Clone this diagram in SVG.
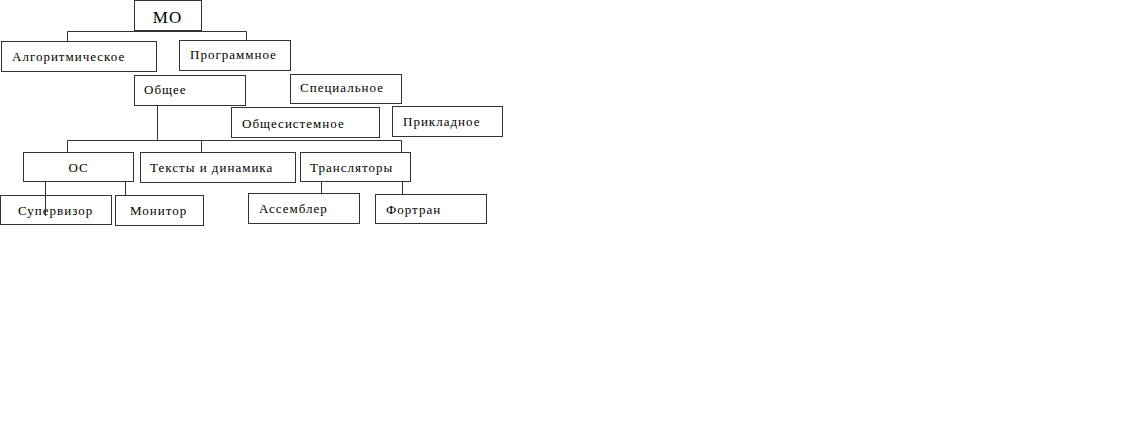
<svg xmlns="http://www.w3.org/2000/svg" width="1142" height="430" viewBox="0 0 1142 430">
<style>
.b{fill:#fff;stroke:#333;stroke-width:1}
.t{font-family:"Liberation Serif","Times New Roman",serif;font-size:13px;letter-spacing:1px;fill:#000}
.c{fill:none;stroke:#333;stroke-width:1}
</style>
<rect width="1142" height="430" fill="#fff"/>
<g id="connectors">
<path class="c" d="M67.5 41V31.5H246.5V40"/>
<path class="c" d="M157.5 105V140.5M67.5 152V140.5H401.5V152M201.5 140.5V152"/>
<path class="c" d="M45.5 182V216M125.5 182V195"/>
<path class="c" d="M321.5 182V193M402.5 182V194"/>
</g>
<g id="mo"><rect class="b" x="134.5" y="0.5" width="67" height="30"/><text class="t" x="167.5" y="23" text-anchor="middle" style="font-size:17px;letter-spacing:1px">МО</text></g>
<g id="algo"><rect class="b" x="1.5" y="41.5" width="155" height="30"/><text class="t" x="12" y="61">Алгоритмическое</text></g>
<g id="prog"><rect class="b" x="179.5" y="40.5" width="111" height="30"/><text class="t" x="190" y="59">Программное</text></g>
<g id="obsh"><rect class="b" x="134.5" y="75.5" width="111" height="30"/><text class="t" x="144" y="94">Общее</text></g>
<g id="spec"><rect class="b" x="290.5" y="74.5" width="111" height="29"/><text class="t" x="300" y="92">Специальное</text></g>
<g id="obshsys"><rect class="b" x="231.5" y="107.5" width="148" height="30"/><text class="t" x="242" y="128">Общесистемное</text></g>
<g id="prikl"><rect class="b" x="392.5" y="106.5" width="110" height="30"/><text class="t" x="403" y="126">Прикладное</text></g>
<g id="os"><rect class="b" x="23.5" y="152.5" width="110" height="29"/><text class="t" x="78.5" y="172" text-anchor="middle">ОС</text></g>
<g id="texts"><rect class="b" x="140.5" y="152.5" width="155" height="30"/><text class="t" x="150" y="172">Тексты и динамика</text></g>
<g id="transl"><rect class="b" x="300.5" y="152.5" width="110" height="29"/><text class="t" x="310" y="172">Трансляторы</text></g>
<g id="superv"><rect class="b" x="0.5" y="195.5" width="111" height="29"/><text class="t" x="18" y="215">Супервизор</text></g>
<g id="monitor"><rect class="b" x="115.5" y="195.5" width="88" height="30"/><text class="t" x="130" y="215">Монитор</text></g>
<g id="assem"><rect class="b" x="248.5" y="193.5" width="111" height="30"/><text class="t" x="259" y="213">Ассемблер</text></g>
<g id="fortran"><rect class="b" x="375.5" y="194.5" width="111" height="29"/><text class="t" x="386" y="214">Фортран</text></g>
<path class="c" d="M45.5 195.5V216"/>
</svg>
